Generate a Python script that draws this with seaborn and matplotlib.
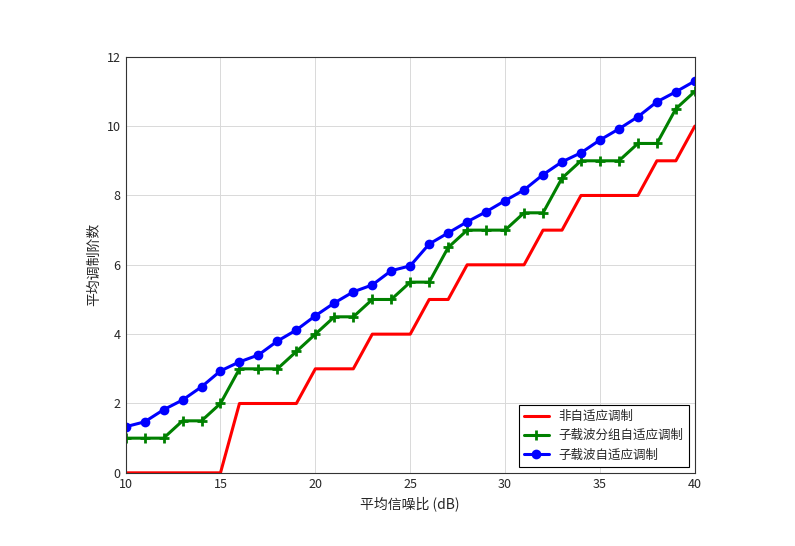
import numpy as np
import pandas as pd
import seaborn as sns
import matplotlib.pyplot as plt

# Data
snr = list(range(10, 41))
non_adaptive = [0, 0, 0, 0, 0, 0, 2, 2, 2, 2, 3, 3, 3, 4, 4, 4, 5, 5, 6, 6, 6, 6,
                7, 7, 8, 8, 8, 8, 9, 9, 10]
group_adaptive = [1, 1, 1, 1.5, 1.5, 2, 3, 3, 3, 3.5, 4, 4.5, 4.5, 5, 5, 5.5, 5.5,
                  6.5, 7, 7, 7, 7.5, 7.5, 8.5, 9, 9, 9, 9.5, 9.5, 10.5, 11]
sub_adaptive = [1.33, 1.47, 1.82, 2.1, 2.48, 2.94, 3.2, 3.4, 3.8, 4.12, 4.53, 4.9,
                5.22, 5.42, 5.83, 5.97, 6.6, 6.92, 7.24, 7.53, 7.85, 8.16, 8.6,
                8.97, 9.23, 9.6, 9.92, 10.27, 10.7, 10.99, 11.3]
labels = ['非自适应调制', '子载波分组自适应调制', '子载波自适应调制']

sns.set_style('white')
plt.rcParams['font.family'] = ['Noto Sans CJK SC', 'DejaVu Sans']

fig = plt.figure(figsize=(7.95, 5.46), dpi=100)
ax = fig.add_axes([0.158, 0.134, 0.716, 0.762])

sns.lineplot(x=snr, y=non_adaptive, ax=ax, color='red', lw=2.2, label=labels[0])
sns.lineplot(x=snr, y=group_adaptive, ax=ax, color='green', lw=2.2, marker='+',
             markersize=7, markeredgewidth=2, markeredgecolor='green', label=labels[1])
sns.lineplot(x=snr, y=sub_adaptive, ax=ax, color='blue', lw=2.2, marker='o',
             markersize=5.5, markeredgewidth=1.5, markeredgecolor='blue', label=labels[2])

ax.set_xlim(10, 40)
ax.set_ylim(0, 12)
ax.set_xticks(range(10, 41, 5))
ax.set_yticks(range(0, 13, 2))
ax.grid(True, color='#d9d9d9', lw=0.7)
for s in ax.spines.values():
    s.set_color('#333333')
    s.set_linewidth(0.8)
ax.tick_params(labelsize=9, direction='in', length=4)
ax.set_xlabel('平均信噪比 (dB)', fontsize=10)
ax.set_ylabel('平均调制阶数', fontsize=10)
leg = ax.legend(loc='lower right', fontsize=9, fancybox=False, framealpha=1,
                edgecolor='black')
leg.get_frame().set_linewidth(0.8)

fig.savefig('out.png', dpi=100)
